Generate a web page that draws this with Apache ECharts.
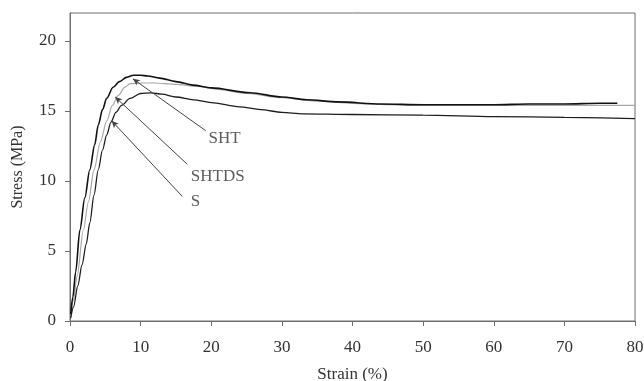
<!DOCTYPE html>
<html>
<head>
<meta charset="utf-8">
<script src="https://cdn.jsdelivr.net/npm/echarts@6/dist/echarts.min.js"></script>
<style>
html,body{margin:0;padding:0;background:#fff;}
#chart{width:644px;height:381px;}
</style>
</head>
<body>
<div id="chart"></div>
<script>
// ---- data (strain %, stress MPa) ----
const xTicks = [0, 10, 20, 30, 40, 50, 60, 70, 80];
const yTicks = [0, 5, 10, 15, 20];

const shtStrain = [0.1, 0.4, 0.8, 1.4, 2.1, 2.8, 3.5, 4.0, 4.6, 5.2, 6.1, 7.0, 8.0, 9.0, 10.0, 11.0, 12.7, 15, 17.4, 20, 25.5, 30, 33.5, 38, 44, 50, 55, 60, 65, 70, 75, 77.5];
const shtStress = [0.5, 1.7, 3.5, 6.5, 8.8, 10.8, 12.6, 14.0, 15.1, 15.9, 16.7, 17.1, 17.4, 17.55, 17.55, 17.5, 17.35, 17.1, 16.85, 16.65, 16.3, 16.0, 15.8, 15.65, 15.5, 15.45, 15.45, 15.45, 15.5, 15.5, 15.55, 15.55];

const shtdsStrain = [0.1, 0.5, 1.0, 1.9, 2.6, 3.4, 4.3, 5.2, 6.0, 6.8, 7.8, 8.5, 10.3, 12, 15, 18, 21, 25, 30, 35, 40, 45, 50, 60, 70, 80];
const shtdsStress = [0.3, 1.5, 3.2, 6.5, 8.5, 10.8, 12.8, 14.3, 15.4, 16.1, 16.7, 16.95, 17.0, 17.0, 16.9, 16.75, 16.55, 16.25, 15.95, 15.7, 15.55, 15.45, 15.4, 15.4, 15.4, 15.4];

const sStrain = [0.1, 0.5, 1.1, 1.7, 2.3, 2.8, 3.4, 4.0, 4.6, 5.2, 5.8, 6.5, 7.3, 8.5, 10, 11.5, 13, 15, 17.5, 20, 24, 27, 30, 33, 40, 50, 60, 70, 80];
const sStress = [0.2, 1.0, 2.5, 4.0, 5.5, 7.0, 9.0, 10.8, 12.2, 13.3, 14.2, 14.9, 15.4, 15.9, 16.25, 16.3, 16.2, 16.0, 15.8, 15.6, 15.3, 15.1, 14.9, 14.8, 14.75, 14.7, 14.6, 14.55, 14.45];

// annotations: label, arrow tip (strain, stress), line end, label anchor
const annoNames = ['SHT', 'SHTDS', 'S'];
const annoTip = [[8.9, 17.3], [6.4, 16.0], [5.9, 14.3]];
const annoEnd = [[19.2, 13.6], [16.6, 11.2], [15.9, 8.9]];
const annoLabelAt = [[19.6, 13.05], [17.1, 10.35], [17.1, 8.5]];

const zip = (a, b) => a.map((v, i) => [v, b[i]]);
const FONT = 'Liberation Serif';
const TXT = '#333333';

const chart = echarts.init(document.getElementById('chart'), null, {renderer: 'canvas'});

const curveStyle = (color, width) => ({
  type: 'line', showSymbol: false, symbol: 'none', smooth: 0.3, smoothMonotone: 'x',
  lineStyle: {color: color, width: width}, silent: true, z: 3
});

chart.setOption({
  animation: false,
  backgroundColor: '#fff',
  grid: {left: 70, right: 9, top: 13, bottom: 60, containLabel: false, outerBoundsMode: 'none',
         show: true, borderColor: '#6f6f6f', borderWidth: 1, backgroundColor: 'transparent'},
  xAxis: {
    type: 'value', min: 0, max: 80, interval: 10,
    name: 'Strain (%)', nameLocation: 'middle', nameGap: 45,
    nameTextStyle: {fontFamily: FONT, fontSize: 17, color: TXT},
    axisLine: {show: true, lineStyle: {color: '#6f6f6f', width: 1}},
    axisTick: {show: true, inside: false, length: 5, lineStyle: {color: '#6f6f6f'}, customValues: xTicks},
    axisLabel: {fontFamily: FONT, fontSize: 17, color: TXT, margin: 18, customValues: xTicks},
    splitLine: {show: false}
  },
  yAxis: {
    type: 'value', min: 0, max: 22, interval: 5,
    name: 'Stress (MPa)', nameLocation: 'middle', nameGap: 44, nameRotate: 90,
    nameTextStyle: {fontFamily: FONT, fontSize: 16, color: TXT},
    axisLine: {show: true, lineStyle: {color: '#6f6f6f', width: 1}},
    axisTick: {show: true, inside: false, length: 5, lineStyle: {color: '#6f6f6f'}, customValues: yTicks},
    axisLabel: {fontFamily: FONT, fontSize: 17, color: TXT, margin: 14, customValues: yTicks},
    splitLine: {show: false}
  },
  series: [
    Object.assign(curveStyle('#a8a8a8', 1.2), {name: 'SHTDS', data: zip(shtdsStrain, shtdsStress)}),
    Object.assign(curveStyle('#1e1e1e', 1.3), {name: 'S', data: zip(sStrain, sStress)}),
    Object.assign(curveStyle('#111111', 1.6), {name: 'SHT', data: zip(shtStrain, shtStress)}),
    {
      type: 'scatter', name: 'annotations', silent: true, z: 5,
      symbolSize: 0,
      data: annoNames.map((n, i) => ({name: n, value: annoLabelAt[i]})),
      label: {show: true, position: 'right', distance: 0, formatter: p => p.name,
              fontFamily: FONT, fontSize: 17, color: TXT},
      markLine: {
        silent: true, animation: false,
        symbol: ['arrow', 'none'], symbolSize: [5, 7],
        label: {show: false},
        lineStyle: {color: '#444', width: 1, type: 'solid'},
        emphasis: {disabled: true},
        data: annoNames.map((n, i) => [{coord: annoTip[i]}, {coord: annoEnd[i]}])
      }
    }
  ]
});
</script>
</body>
</html>
